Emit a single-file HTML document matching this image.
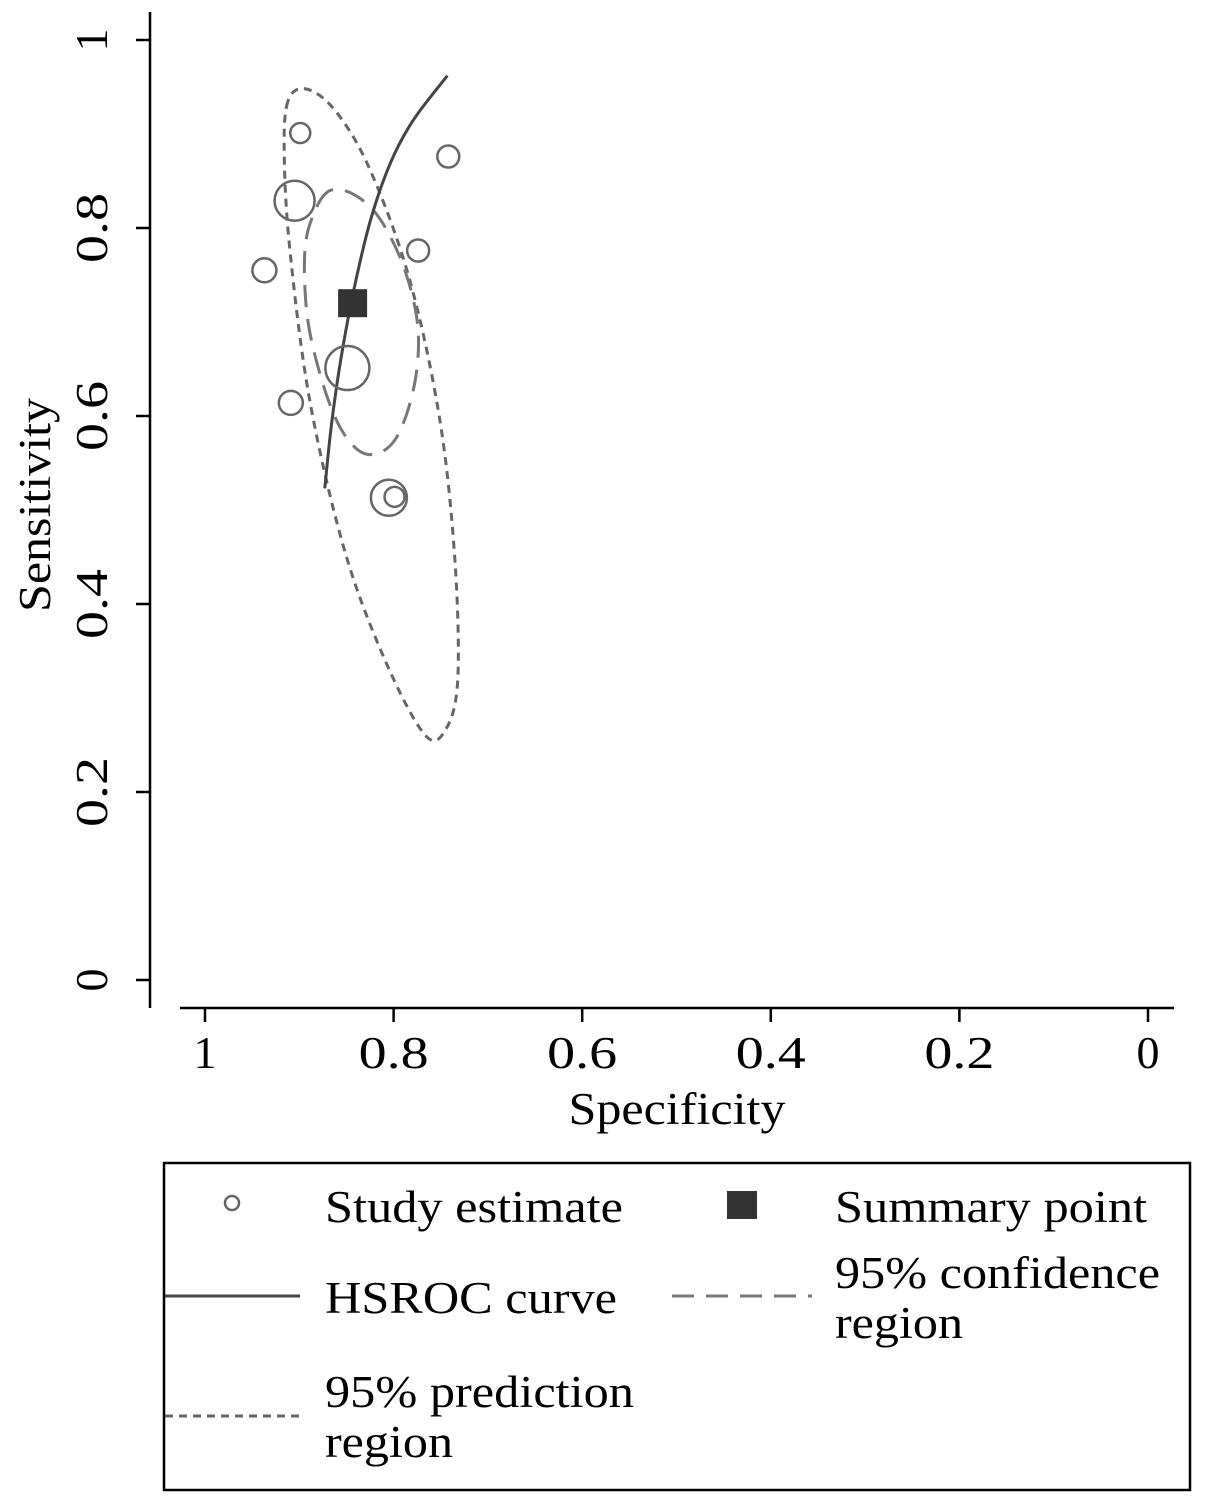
<!DOCTYPE html>
<html><head><meta charset="utf-8"><style>
html,body{margin:0;padding:0;background:#fff;}
svg{display:block;font-family:"Liberation Serif",serif;}
</style></head><body>
<svg id="chart" width="1205" height="1505" viewBox="0 0 1205 1505">
<g id="axes"></g>
<g id="plot"></g>
<g font-size="45">
<rect x="164" y="1163" width="1026" height="327" fill="none" stroke="#000" stroke-width="2.5"/>
<g>
<circle cx="232" cy="1203" r="7" fill="none" stroke="#666" stroke-width="2.5"/>
<text x="325" y="1222" textLength="298" lengthAdjust="spacingAndGlyphs">Study estimate</text></g>
<g>
<rect x="727" y="1191" width="30" height="28" fill="#333"/>
<text x="835" y="1222" textLength="312" lengthAdjust="spacingAndGlyphs">Summary point</text></g>
<g>
<line x1="165" y1="1296" x2="300" y2="1296" stroke="#444" stroke-width="3"/>
<text x="325" y="1313" textLength="292" lengthAdjust="spacingAndGlyphs">HSROC curve</text></g>
<g>
<line x1="672" y1="1296" x2="812" y2="1296" stroke="#777" stroke-width="3" stroke-dasharray="22,12"/>
<text x="835" y="1288" textLength="325" lengthAdjust="spacingAndGlyphs">95% confidence</text>
<text x="835" y="1338" textLength="128" lengthAdjust="spacingAndGlyphs">region</text></g>
<g>
<line x1="165" y1="1416" x2="303" y2="1416" stroke="#666" stroke-width="3" stroke-dasharray="8,6"/>
<text x="325" y="1407" textLength="309" lengthAdjust="spacingAndGlyphs">95% prediction</text>
<text x="325" y="1457" textLength="128" lengthAdjust="spacingAndGlyphs">region</text></g>
</g>
</svg>
<script>
const xTicks = [1, 0.8, 0.6, 0.4, 0.2, 0];
const yTicks = [0, 0.2, 0.4, 0.6, 0.8, 1];
const studySpec = [0.899, 0.742, 0.905, 0.937, 0.774, 0.849, 0.909, 0.805, 0.799];
const studySens = [0.901, 0.876, 0.829, 0.755, 0.776, 0.651, 0.614, 0.513, 0.514];
const studyWeight = [10, 11, 20, 12, 11, 22, 12, 18, 10];
const summarySpec = 0.844;
const summarySens = 0.720;
const hsrocSpec = [0.873, 0.866, 0.856, 0.842, 0.824, 0.803, 0.779, 0.743];
const hsrocSens = [0.523, 0.590, 0.660, 0.735, 0.810, 0.870, 0.915, 0.962];
const confSpec = [0.867,0.883,0.894,0.891,0.873,0.852,0.827,0.799,0.779,0.774,0.788,0.814,0.841];
const confSens = [0.840,0.819,0.777,0.702,0.628,0.580,0.559,0.574,0.628,0.691,0.755,0.809,0.835];
const predSpec = [0.912,0.916,0.910,0.889,0.852,0.809,0.767,0.745,0.732,0.735,0.751,0.783,0.825,0.862,0.893];
const predSens = [0.935,0.880,0.777,0.617,0.457,0.340,0.261,0.266,0.319,0.447,0.596,0.745,0.862,0.925,0.948];

const NS='http://www.w3.org/2000/svg';
const X0=1148, XW=943, Y0=980, YH=940;
function sx(v){return X0 - XW*v;}
function sy(v){return Y0 - YH*v;}
function mk(tag, attrs, parent){const e=document.createElementNS(NS,tag);for(const k in attrs)e.setAttribute(k,attrs[k]);parent.appendChild(e);return e;}
const axes=document.getElementById('axes'), plot=document.getElementById('plot');

let e=mk('line',{x1:150,y1:12,x2:150,y2:1008,stroke:'#000','stroke-width':2.5},axes);


e=mk('line',{x1:180,y1:1008,x2:1174,y2:1008,stroke:'#000','stroke-width':2.5},axes);


xTicks.forEach(t=>{
  let l=mk('line',{x1:sx(t),y1:1008,x2:sx(t),y2:1022,stroke:'#000','stroke-width':2.5},axes);
  
  
  const s=String(t);
  const a={x:sx(t),y:1068,'font-size':46,'text-anchor':'middle'};
  if(s.length>1){a.textLength=70;a.lengthAdjust='spacingAndGlyphs';}
  let tx=mk('text',a,axes);
  tx.textContent=s;
  
  
});
yTicks.forEach(t=>{
  let l=mk('line',{x1:136,y1:sy(t),x2:150,y2:sy(t),stroke:'#000','stroke-width':2.5},axes);
  
  
  const s=String(t);
  const a={x:0,y:0,'font-size':46,'text-anchor':'middle',transform:`translate(107,${sy(t)}) rotate(-90)`};
  if(s.length>1){a.textLength=70;a.lengthAdjust='spacingAndGlyphs';}
  let tx=mk('text',a,axes);
  tx.textContent=s;
  
  
});
e=mk('text',{x:677,y:1124,'font-size':45,'text-anchor':'middle',textLength:217,lengthAdjust:'spacingAndGlyphs'},axes);
e.textContent='Specificity';


e=mk('text',{x:0,y:0,'font-size':45,'text-anchor':'middle',textLength:214,lengthAdjust:'spacingAndGlyphs',transform:'translate(50,505) rotate(-90)'},axes);
e.textContent='Sensitivity';



function closedSmooth(xs,ys){
  const p=xs.map((v,i)=>[sx(v),sy(ys[i])]);const n=p.length;
  let d=`M${p[0][0]},${p[0][1]}`;
  for(let i=0;i<n;i++){
    const p0=p[(i-1+n)%n],p1=p[i],p2=p[(i+1)%n],p3=p[(i+2)%n];
    d+=` C${p1[0]+(p2[0]-p0[0])/6},${p1[1]+(p2[1]-p0[1])/6} ${p2[0]-(p3[0]-p1[0])/6},${p2[1]-(p3[1]-p1[1])/6} ${p2[0]},${p2[1]}`;
  }
  return d+'Z';
}
function openSmooth(xs,ys){
  const p=xs.map((v,i)=>[sx(v),sy(ys[i])]);const n=p.length;
  let d=`M${p[0][0]},${p[0][1]}`;
  for(let i=0;i<n-1;i++){
    const p0=p[Math.max(i-1,0)],p1=p[i],p2=p[i+1],p3=p[Math.min(i+2,n-1)];
    d+=` C${p1[0]+(p2[0]-p0[0])/6},${p1[1]+(p2[1]-p0[1])/6} ${p2[0]-(p3[0]-p1[0])/6},${p2[1]-(p3[1]-p1[1])/6} ${p2[0]},${p2[1]}`;
  }
  return d;
}
e=mk('path',{d:closedSmooth(predSpec,predSens),fill:'none',stroke:'#666','stroke-width':3,'stroke-dasharray':'8,6'},plot);


e=mk('path',{d:closedSmooth(confSpec,confSens),fill:'none',stroke:'#777','stroke-width':3,'stroke-dasharray':'22,12'},plot);


e=mk('path',{d:openSmooth(hsrocSpec,hsrocSens),fill:'none',stroke:'#444','stroke-width':3},plot);


studySpec.forEach((s,i)=>{
  const c=mk('circle',{cx:sx(s),cy:sy(studySens[i]),r:studyWeight[i],fill:'none',stroke:'#666','stroke-width':2.5},plot);
  
  
});
e=mk('rect',{x:sx(summarySpec)-14,y:sy(summarySens)-14,width:29,height:28,fill:'#333'},plot);


</script>
</body></html>
